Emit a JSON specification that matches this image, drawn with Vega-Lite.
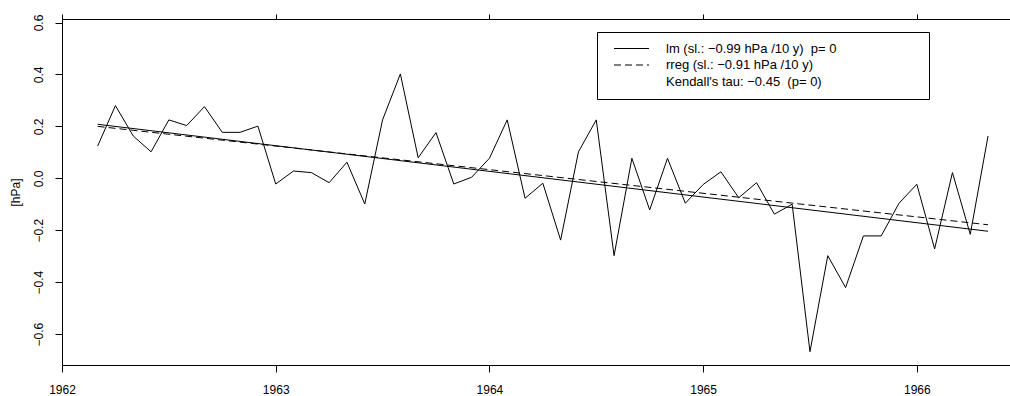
{
  "$schema": "https://vega.github.io/schema/vega-lite/v6.json",
  "width": 948,
  "height": 346,
  "autosize": {"type": "none"},
  "padding": {"left": 62, "top": 19, "right": 0, "bottom": 31},
  "background": "white",
  "config": {
    "view": {"stroke": null},
    "font": "Liberation Sans",
    "axis": {
      "grid": false,
      "domainColor": "black",
      "domainWidth": 1,
      "tickColor": "black",
      "tickWidth": 1,
      "labelColor": "black",
      "labelFont": "Liberation Sans",
      "labelFontSize": 12,
      "titleColor": "black",
      "titleFont": "Liberation Sans",
      "titleFontSize": 12,
      "titleFontWeight": "normal",
      "labelFlush": false,
      "labelOverlap": false
    }
  },
  "datasets": {
    "obs": [
      {"t": 1962.1667, "v": 0.124}, {"t": 1962.25, "v": 0.280}, {"t": 1962.3333, "v": 0.163},
      {"t": 1962.4167, "v": 0.102}, {"t": 1962.5, "v": 0.225}, {"t": 1962.5833, "v": 0.203},
      {"t": 1962.6667, "v": 0.276}, {"t": 1962.75, "v": 0.177}, {"t": 1962.8333, "v": 0.177},
      {"t": 1962.9167, "v": 0.201}, {"t": 1963.0, "v": -0.022}, {"t": 1963.0833, "v": 0.028},
      {"t": 1963.1667, "v": 0.022}, {"t": 1963.25, "v": -0.017}, {"t": 1963.3333, "v": 0.062},
      {"t": 1963.4167, "v": -0.099}, {"t": 1963.5, "v": 0.225}, {"t": 1963.5833, "v": 0.402},
      {"t": 1963.6667, "v": 0.079}, {"t": 1963.75, "v": 0.176}, {"t": 1963.8333, "v": -0.022},
      {"t": 1963.9167, "v": 0.004}, {"t": 1964.0, "v": 0.077}, {"t": 1964.0833, "v": 0.225},
      {"t": 1964.1667, "v": -0.077}, {"t": 1964.25, "v": -0.019}, {"t": 1964.3333, "v": -0.238},
      {"t": 1964.4167, "v": 0.102}, {"t": 1964.5, "v": 0.225}, {"t": 1964.5833, "v": -0.298},
      {"t": 1964.6667, "v": 0.077}, {"t": 1964.75, "v": -0.122}, {"t": 1964.8333, "v": 0.077},
      {"t": 1964.9167, "v": -0.096}, {"t": 1965.0, "v": -0.024}, {"t": 1965.0833, "v": 0.025},
      {"t": 1965.1667, "v": -0.075}, {"t": 1965.25, "v": -0.017}, {"t": 1965.3333, "v": -0.138},
      {"t": 1965.4167, "v": -0.100}, {"t": 1965.5, "v": -0.668}, {"t": 1965.5833, "v": -0.298},
      {"t": 1965.6667, "v": -0.421}, {"t": 1965.75, "v": -0.222}, {"t": 1965.8333, "v": -0.222},
      {"t": 1965.9167, "v": -0.096}, {"t": 1966.0, "v": -0.023}, {"t": 1966.0833, "v": -0.272},
      {"t": 1966.1667, "v": 0.022}, {"t": 1966.25, "v": -0.216}, {"t": 1966.3333, "v": 0.163}
    ],
    "trend": [
      {"fit": "lm (sl.: −0.99 hPa /10 y)  p= 0", "t": 1962.1667, "v": 0.208},
      {"fit": "lm (sl.: −0.99 hPa /10 y)  p= 0", "t": 1966.3333, "v": -0.204},
      {"fit": "rreg (sl.: −0.91 hPa /10 y)", "t": 1962.1667, "v": 0.200},
      {"fit": "rreg (sl.: −0.91 hPa /10 y)", "t": 1966.3333, "v": -0.179}
    ]
  },
  "resolve": {"axis": {"x": "independent"}},
  "layer": [
    {
      "data": {"name": "obs"},
      "mark": {"type": "line", "color": "black", "strokeWidth": 1},
      "encoding": {
        "x": {
          "field": "t", "type": "quantitative",
          "scale": {"domain": [1962, 1966.436], "nice": false, "zero": false},
          "axis": {
            "orient": "bottom", "title": null,
            "values": [1962, 1963, 1964, 1965, 1966], "format": "d",
            "tickSize": 7, "labelPadding": 12
          }
        },
        "y": {
          "field": "v", "type": "quantitative",
          "scale": {"domain": [-0.7192, 0.6136], "nice": false, "zero": false},
          "axis": {
            "orient": "left", "title": "[hPa]",
            "values": [-0.6, -0.4, -0.2, 0, 0.2, 0.4, 0.6], "format": ".1f",
            "labelAngle": -90, "labelAlign": "center", "labelBaseline": "bottom",
            "tickSize": 7, "labelPadding": 10, "titlePadding": 10
          }
        }
      }
    },
    {
      "data": {"name": "trend"},
      "mark": {"type": "line", "color": "black", "strokeWidth": 1},
      "encoding": {
        "x": {
          "field": "t", "type": "quantitative",
          "scale": {"domain": [1962, 1966.436], "nice": false, "zero": false},
          "axis": {
            "orient": "top", "title": null, "labels": false,
            "values": [1962, 1963, 1964, 1965, 1966], "tickSize": 5
          }
        },
        "y": {
          "field": "v", "type": "quantitative",
          "scale": {"domain": [-0.7192, 0.6136], "nice": false, "zero": false}
        },
        "strokeDash": {
          "field": "fit", "type": "nominal",
          "scale": {
            "domain": ["lm (sl.: −0.99 hPa /10 y)  p= 0", "rreg (sl.: −0.91 hPa /10 y)", "Kendall's tau: −0.45  (p= 0)"],
            "range": [[], [7, 4], [0, 1000]]
          },
          "legend": {
            "orient": "none", "legendX": 535, "legendY": 13,
            "title": " ", "titleOrient": "right", "titlePadding": 82, "titleFontSize": 12,
            "strokeColor": "black", "fillColor": "white", "padding": 10, "cornerRadius": 0,
            "symbolType": "M-3.5,0H3.5", "symbolSize": 100, "symbolStrokeWidth": 1,
            "symbolStrokeColor": "black",
            "symbolOffset": 18, "labelOffset": 28, "rowPadding": 2.5,
            "labelFont": "Liberation Sans", "labelFontSize": 13, "labelColor": "black",
            "labelLimit": 400,
            "labelExpr": "replace(datum.label, '  ', '\u00a0 ')"
          }
        }
      }
    }
  ]
}
